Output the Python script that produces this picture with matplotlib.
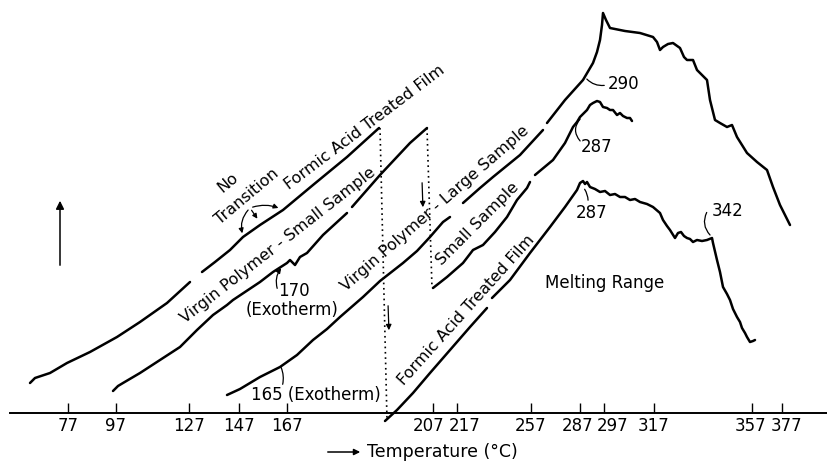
import numpy as np
import matplotlib
matplotlib.use("Agg")
import matplotlib.pyplot as plt
import matplotlib.transforms as mtransforms

# ---------- Data (x = chart position along the temperature axis, y = signal) ----------
tick_pos = [68, 116, 189, 239, 287, 433, 457, 531, 580, 604, 654, 752, 782]
tick_labels = ["77", "97", "127", "147", "167", "207", "217", "257", "287", "297", "317", "357", "377"]
# crowded labels are nudged sideways (pixels)
tick_nudge = [0, 0, 0, 0, 0, -4, 8, 0, -2, 9, 0, -2, 4]

nan = np.nan

# Formic acid treated film, first part (before recorder shift)
formic1_x = [30, 35, 50, 67, 90, 117, 140, 167, 190, nan, 202, 215, 230, 243, 260, 283, 313, 347, 379]
formic1_y = [30, 35, 40, 50, 61, 76, 91, 110, 131, nan, 141, 151, 163, 176, 188, 203, 228, 256, 285]

# Formic acid treated film, continued (melting range)
formic2_x = [385, 397, 413, 430, 450, 470, 487, nan, 492, 510, 530, 550, 565, 577, 580, 583, 585,
             587, 590, 595, 600, 605, 610, 615, 620, 625, 630, 635, 640, 647, 653, 660, 663, 667,
             670, 675, 678, 681, 684, 687, 690, 693, 697, 702, 707, 712, 713, 717, 720, 723, 727,
             730, 733, 737, 740, 742, 745, 747, 750, 753, 755]
formic2_y = [-8, 3, 20, 40, 63, 86, 105, nan, 115, 133, 160, 186, 206, 223, 230, 232, 229,
             231, 226, 224, 221, 222, 218, 219, 216, 216, 213, 214, 211, 209, 206, 200, 193, 187,
             183, 175, 180, 181, 177, 175, 174, 171, 173, 172, 173, 175, 170, 153, 141, 126, 119,
             113, 104, 96, 91, 85, 80, 76, 71, 72, 73]

# Virgin polymer - small sample, first part
vsmall1_x = [113, 118, 123, 140, 160, 180, 197, 213, 227, 233, 260, 273, 287, 290, 295, 300, 307,
             323, 347, nan, 352, 380, 410, 427]
vsmall1_y = [22, 27, 30, 40, 53, 66, 83, 98, 108, 113, 131, 141, 150, 153, 148, 156, 160,
             178, 200, nan, 206, 238, 270, 285]

# Small sample, continued
vsmall2_x = [433, 447, 463, 473, 483, 495, 507, 517, 527, 530, nan, 535, 553, 565, 573, 577, 580,
             587, 590, 593, 597, 600, 603, 607, 610, 613, 617, 620, 623, 627, 630, 632]
vsmall2_y = [125, 136, 150, 163, 168, 181, 196, 213, 225, 231, nan, 238, 253, 270, 286, 291, 296,
             303, 308, 310, 312, 311, 306, 305, 303, 303, 298, 300, 297, 295, 295, 292]

# Virgin polymer - large sample
vlarge_x = [227, 240, 260, 280, 297, 313, 327, 340, 363, 380, 403, 417, 430, 443, 450, nan,
            463, 480, 493, 520, 543, nan, 547, 565, 583, 593, 597, 600, 602, 603, 606, 610,
            625, 640, 653, 657, 660, 663, 668, 673, 680, 684, 687, 693, 697, 702, 707, 710,
            715, 720, 727, 732, 737, 742, 747, 757, 767, 773, 780, 785, 790]
vlarge_y = [18, 24, 36, 46, 58, 73, 84, 96, 116, 132, 150, 162, 176, 191, 196, nan,
            210, 225, 236, 258, 283, nan, 290, 313, 333, 350, 361, 373, 388, 400, 393, 385,
            382, 380, 376, 371, 363, 366, 369, 370, 365, 356, 353, 353, 343, 338, 333, 313,
            293, 290, 286, 288, 276, 268, 260, 251, 243, 226, 208, 198, 188]

# recorder shifts (dotted drops)
drop1_x = [380, 387]
drop1_y = [285, -7]
drop2_x = [427, 432]
drop2_y = [285, 125]

# ---------- Figure ----------
fig = plt.figure(figsize=(8.27, 4.61), dpi=100)
ax = fig.add_axes([0, 48 / 461, 1, 413 / 461])
ax.set_xlim(0, 827)
ax.set_ylim(0, 413)

lw = 1.8
for xs, ys in [(formic1_x, formic1_y), (formic2_x, formic2_y), (vsmall1_x, vsmall1_y),
               (vsmall2_x, vsmall2_y), (vlarge_x, vlarge_y)]:
    ax.plot(xs, ys, color='black', lw=lw, clip_on=False, solid_capstyle='round')

for xs, ys in [(drop1_x, drop1_y), (drop2_x, drop2_y)]:
    ax.plot(xs, ys, color='black', lw=1.2, dashes=(1, 2.2), clip_on=False)

# small down arrows beside the drops
arr = dict(arrowstyle='-|>', color='black', lw=0.9, mutation_scale=8)
ax.annotate('', xy=(423, 203), xytext=(422, 233), arrowprops=arr)
ax.annotate('', xy=(389, 80), xytext=(388, 110), arrowprops=arr)
# vertical (signal) arrow on the left
ax.annotate('', xy=(60, 215), xytext=(60, 145),
            arrowprops=dict(arrowstyle='-|>', color='black', lw=1.1, mutation_scale=12))

# "No Transition" pointers
ax.annotate('', xy=(243, 177), xytext=(250, 205),
            arrowprops=dict(arrowstyle='-|>', color='black', lw=0.9, mutation_scale=7, connectionstyle='arc3,rad=0.3'))
ax.annotate('', xy=(259, 192), xytext=(250, 205),
            arrowprops=dict(arrowstyle='-|>', color='black', lw=0.9, mutation_scale=7))
ax.annotate('', xy=(281, 204), xytext=(250, 205),
            arrowprops=dict(arrowstyle='-|>', color='black', lw=0.9, mutation_scale=7, connectionstyle='arc3,rad=-0.2'))

# leaders for peak labels
lead = dict(arrowstyle='-', color='black', lw=0.9)
ax.annotate('', xy=(585, 336), xytext=(607, 328), arrowprops=dict(lead, connectionstyle='arc3,rad=-0.3'))
ax.annotate('', xy=(582, 296), xytext=(582, 270), arrowprops=dict(lead, connectionstyle='arc3,rad=-0.5'))
ax.annotate('', xy=(583, 226), xytext=(588, 210), arrowprops=dict(lead, connectionstyle='arc3,rad=0.2'))
ax.annotate('', xy=(712, 176), xytext=(708, 203), arrowprops=dict(lead, connectionstyle='arc3,rad=0.4'))
ax.annotate('', xy=(283, 147), xytext=(278, 122),
            arrowprops=dict(arrowstyle='-|>', color='black', lw=0.9, mutation_scale=7, connectionstyle='arc3,rad=-0.3'))
ax.annotate('', xy=(280, 48), xytext=(282, 26), arrowprops=dict(lead, connectionstyle='arc3,rad=0.2'))

# ---------- Text ----------
fs = 11.5
ax.text(228, 230, "No", rotation=40, ha='center', va='center', fontsize=fs)
ax.text(247, 216, "Transition", rotation=40, ha='center', va='center', fontsize=fs)
ax.text(365, 286, "Formic Acid Treated Film", rotation=37, ha='center', va='center', fontsize=fs)
ax.text(278, 168, "Virgin Polymer - Small Sample", rotation=38, ha='center', va='center', fontsize=fs)
ax.text(435, 205, "Virgin Polymer - Large Sample", rotation=41, ha='center', va='center', fontsize=fs)
ax.text(478, 189, "Small Sample", rotation=45, ha='center', va='center', fontsize=fs)
ax.text(466, 103, "Formic Acid Treated Film", rotation=48, ha='center', va='center', fontsize=fs)

fs2 = 12
ax.text(294, 122, "170", ha='center', va='center', fontsize=fs2)
ax.text(292, 103, "(Exotherm)", ha='center', va='center', fontsize=fs2)
ax.text(316, 18, "165 (Exotherm)", ha='center', va='center', fontsize=fs2)
ax.text(624, 329, "290", ha='center', va='center', fontsize=fs2)
ax.text(597, 266, "287", ha='center', va='center', fontsize=fs2)
ax.text(592, 200, "287", ha='center', va='center', fontsize=fs2)
ax.text(728, 202, "342", ha='center', va='center', fontsize=fs2)
ax.text(605, 130, "Melting Range", ha='center', va='center', fontsize=fs2)

# ---------- Axis ----------
for s in ['left', 'top', 'right']:
    ax.spines[s].set_visible(False)
ax.spines['bottom'].set_bounds(10, 827)
ax.spines['bottom'].set_linewidth(1.4)
ax.set_yticks([])
ax.set_xticks(tick_pos, tick_labels)
ax.tick_params(axis='x', direction='in', length=7, width=1.0, pad=3, labelsize=fs2)
for lab, dx in zip(ax.xaxis.get_majorticklabels(), tick_nudge):
    lab.set_transform(lab.get_transform() + mtransforms.ScaledTranslation(dx / 100, 0, fig.dpi_scale_trans))
ax.patch.set_alpha(0)

# x label with arrow
ax.annotate('', xy=(363, -39), xytext=(325, -39), annotation_clip=False,
            arrowprops=dict(arrowstyle='-|>', color='black', lw=1.1, mutation_scale=9))
ax.text(367, -39, "Temperature (°C)", ha='left', va='center', fontsize=12.5, clip_on=False)

fig.savefig("out.png", dpi=100)
